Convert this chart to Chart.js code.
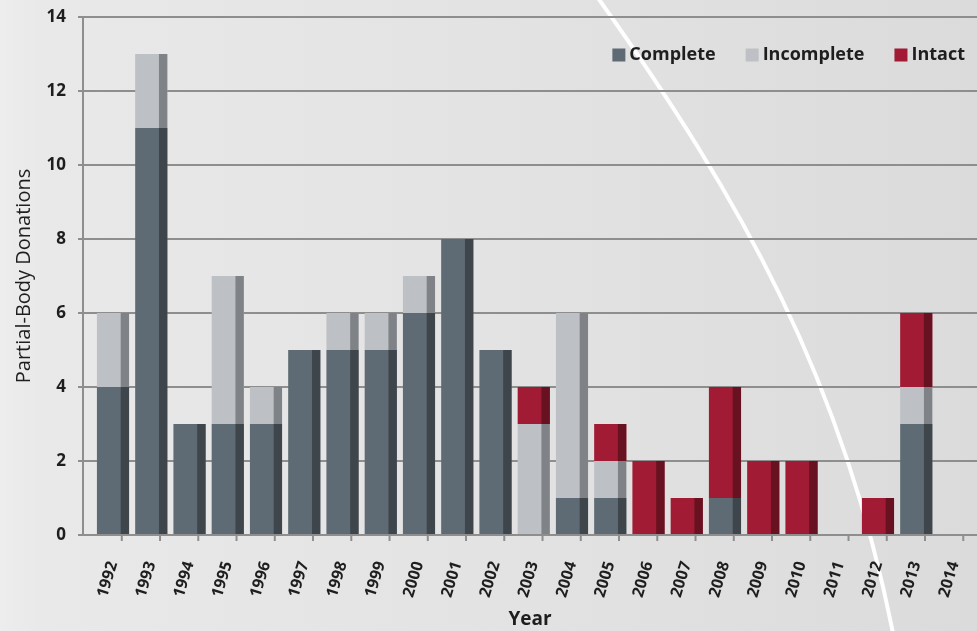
<!DOCTYPE html>
<html>
<head>
<meta charset="utf-8">
<script src="https://cdn.jsdelivr.net/npm/chart.js@4"></script>
<style>
  html, body { margin: 0; padding: 0; background: #e2e2e2; }
  #wrap { width: 977px; height: 631px; }
</style>
</head>
<body>
<div id="wrap"><canvas id="myChart" width="977" height="631"></canvas></div>
<script>
// Data
const years = ['1992', '1993', '1994', '1995', '1996', '1997', '1998', '1999', '2000', '2001', '2002', '2003',
               '2004', '2005', '2006', '2007', '2008', '2009', '2010', '2011', '2012', '2013', '2014'];
const complete   = [4, 11, 3, 3, 3, 5, 5, 5, 6, 8, 5, 0, 1, 1, 0, 0, 1, 0, 0, 0, 0, 3, 0];
const incomplete = [2, 2, 0, 4, 1, 0, 1, 1, 1, 0, 0, 3, 5, 1, 0, 0, 0, 0, 0, 0, 0, 1, 0];
const intact     = [0, 0, 0, 0, 0, 0, 0, 0, 0, 0, 0, 1, 0, 1, 2, 1, 3, 2, 2, 0, 1, 2, 0];
const yTicks = [0, 2, 4, 6, 8, 10, 12, 14];

// face colour, darker side colour
const colors = {
    complete:   ['#5f6b74', '#3e464c'],
    incomplete: ['#bdc1c5', '#7f8387'],
    intact:     ['#a01b33', '#681221']
};

const fontFamily = '"Open Sans", "DejaVu Sans", sans-serif';
const textColor = '#1e1e1e';
const gridColor = '#8e8e8e';

// Page backdrop with the sweeping white arc
const backdrop = {
    id: 'backdrop',
    beforeDraw(chart) {
        const c = chart.ctx;
        const w = chart.width, h = chart.height;
        c.save();
        let g = c.createLinearGradient(0, 0, w, 0);
        g.addColorStop(0, '#ededed');
        g.addColorStop(0.04, '#e9e9e9');
        g.addColorStop(0.5, '#e3e3e3');
        g.addColorStop(1, '#dbdbdb');
        c.fillStyle = g;
        c.fillRect(0, 0, w, h);
        c.beginPath();
        c.moveTo(598, -2);
        c.bezierCurveTo(742, 200, 843, 381, 893, 633);
        c.strokeStyle = '#ffffff';
        c.lineWidth = 4;
        c.stroke();
        c.restore();
    }
};

// Darker strip on the right of each bar for the 3D look, plus x tick marks
const barSides = {
    id: 'barSides',
    afterDatasetsDraw(chart) {
        const c = chart.ctx;
        c.save();
        chart.data.datasets.forEach((ds, i) => {
            const meta = chart.getDatasetMeta(i);
            if (meta.hidden) return;
            meta.data.forEach((bar) => {
                const p = bar.getProps(['x', 'y', 'base', 'width'], true);
                const hgt = p.base - p.y;
                if (Math.abs(hgt) < 0.5) return;
                const side = p.width * 0.26;
                c.fillStyle = ds.sideColor;
                c.fillRect(p.x + p.width / 2 - side, Math.min(p.y, p.base), side, Math.abs(hgt));
            });
        });
        // tick marks sit at the front-right edge of each bar
        const xs = chart.scales.x;
        const bottom = chart.chartArea.bottom;
        c.strokeStyle = gridColor;
        c.lineWidth = 2;
        years.forEach((yr) => {
            const px = xs.getPixelForValue(Number(yr) + 0.23);
            c.beginPath();
            c.moveTo(px, bottom);
            c.lineTo(px, bottom + 6);
            c.stroke();
        });
        c.restore();
    }
};

// Legend drawn in the top right of the plot
const topLegend = {
    id: 'topLegend',
    afterDraw(chart) {
        const c = chart.ctx;
        const box = 13, gap = 4, itemGap = 30;
        const yMid = 55;
        c.save();
        c.font = 'bold 18px ' + fontFamily;
        c.textBaseline = 'middle';
        const items = chart.data.datasets.map(ds => ({ text: ds.label, color: ds.backgroundColor, w: c.measureText(ds.label).width }));
        let x = chart.chartArea.right - 12;
        for (let i = items.length - 1; i >= 0; i--) {
            const it = items[i];
            x -= it.w;
            c.fillStyle = textColor;
            c.fillText(it.text, x, yMid);
            x -= gap + box;
            c.fillStyle = it.color;
            c.fillRect(x, yMid - box / 2, box, box);
            x -= itemGap;
        }
        c.restore();
    }
};

const ctx = document.getElementById('myChart').getContext('2d');
const myChart = new Chart(ctx, {
    type: 'bar',
    data: {
        labels: years,
        datasets: [
            { label: 'Complete', data: complete, backgroundColor: colors.complete[0], sideColor: colors.complete[1] },
            { label: 'Incomplete', data: incomplete, backgroundColor: colors.incomplete[0], sideColor: colors.incomplete[1] },
            { label: 'Intact', data: intact, backgroundColor: colors.intact[0], sideColor: colors.intact[1] }
        ]
    },
    options: {
        responsive: false,
        animation: false,
        layout: { padding: { left: 0, right: 0, top: 17, bottom: 0 } },
        datasets: {
            bar: { categoryPercentage: 1, barPercentage: 0.84, borderWidth: 0 }
        },
        plugins: {
            tooltip: { enabled: false },
            legend: { display: false }
        },
        scales: {
            x: {
                type: 'linear',
                stacked: true,
                bounds: 'data',
                offset: false,
                min: 1991.216,
                max: 2014.589,
                afterBuildTicks(scale) { scale.ticks = years.map(y => ({ value: Number(y) })); },
                border: { color: gridColor, width: 2 },
                grid: { display: false },
                ticks: {
                    color: textColor,
                    minRotation: 73,
                    maxRotation: 73,
                    padding: 16,
                    autoSkip: false,
                    font: { family: fontFamily, size: 16, weight: 'bold' },
                    callback: (v) => String(v)
                },
                title: {
                    display: true,
                    text: 'Year',
                    color: textColor,
                    padding: { top: 0, bottom: 0 },
                    font: { family: fontFamily, size: 19, weight: 'bold' }
                },
                afterFit(scale) {
                    scale.height = 96;
                    scale.paddingLeft = 0;
                    scale.paddingRight = 0;
                }
            },
            y: {
                stacked: true,
                min: 0,
                max: 14,
                afterBuildTicks(scale) { scale.ticks = yTicks.map(v => ({ value: v })); },
                border: { color: gridColor, width: 2 },
                grid: { color: gridColor, lineWidth: 2, tickLength: 5 },
                ticks: {
                    color: textColor,
                    padding: 12,
                    font: { family: fontFamily, size: 17, weight: 'bold' }
                },
                title: {
                    display: true,
                    text: 'Partial-Body Donations',
                    color: textColor,
                    padding: { top: 12, bottom: 0 },
                    font: { family: fontFamily, size: 20 }
                },
                afterFit(scale) {
                    scale.width = 83;
                    scale.paddingTop = 0;
                    scale.paddingBottom = 0;
                }
            }
        }
    },
    plugins: [backdrop, barSides, topLegend]
});
</script>
</body>
</html>
